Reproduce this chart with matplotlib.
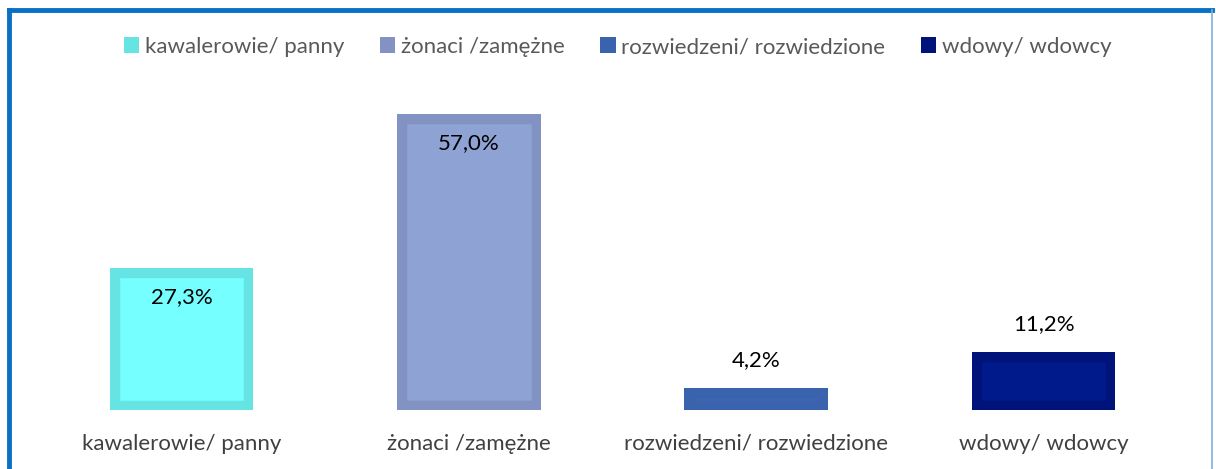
import matplotlib.pyplot as plt
from matplotlib.patches import Patch
from matplotlib.lines import Line2D

# data
categories = ["kawalerowie/ panny", "żonaci /zamężne", "rozwiedzeni/ rozwiedzione", "wdowy/ wdowcy"]
values = [27.3, 57.0, 4.2, 11.2]
labels = ["27,3%", "57,0%", "4,2%", "11,2%"]

fill_colors = ["#75FFFF", "#8FA2D4", "#3C66B2", "#001A8C"]
edge_colors = ["#66E3E3", "#8192C3", "#3A63AE", "#00137A"]

plt.rcParams['font.family'] = ['Lato', 'DejaVu Sans']

fig = plt.figure(figsize=(12.16, 4.69), dpi=100)
W, H = 1216, 469
ax = fig.add_axes([37.75 / W, (H - 410) / H, (1187.25 - 37.75) / W, 311.6 / H])

x = range(len(categories))
bars = ax.bar(x, values, width=0.5, color=fill_colors, edgecolor=edge_colors, linewidth=14)
for b in bars:
    # keep the edge inside the bar, like the Excel border
    b.set_clip_path(b)

for i, (b, v, lab) in enumerate(zip(bars, values, labels)):
    if v > 20:
        ax.annotate(lab, (i, v), xytext=(0, -29), textcoords="offset pixels",
                    ha="center", va="center", fontsize=16, color="black")
    else:
        ax.annotate(lab, (i, v), xytext=(0, 28), textcoords="offset pixels",
                    ha="center", va="center", fontsize=16, color="black")

ax.set_xlim(-0.5, 3.5)
ax.set_ylim(0, 60)
ax.set_xticks(list(x))
ax.set_xticklabels(categories, fontsize=16, color="#404040")
ax.tick_params(axis="x", length=0, pad=17)
ax.set_yticks([])
for s in ax.spines.values():
    s.set_visible(False)

handles = [Patch(facecolor=c) for c in edge_colors]
fig.legend(handles, categories, loc="center", bbox_to_anchor=(0.508, 1 - 47 / H), ncol=4,
           frameon=False, fontsize=16, labelcolor="#595959", handlelength=0.7,
           handleheight=0.7, handletextpad=0.25, columnspacing=1.6)

# outer frame of the original chart area
fig.add_artist(Line2D([9 / W, 1 - 4 / W], [1 - 10 / H, 1 - 10 / H], color="#0A70C4", lw=3.5))
fig.add_artist(Line2D([9 / W, 9 / W], [0, 1 - 10 / H], color="#0A70C4", lw=3.5))
fig.add_artist(Line2D([1 - 4 / W, 1 - 4 / W], [0, 1 - 10 / H], color="#7FB0DF", lw=1.2))

fig.savefig("out.png", dpi=100)
